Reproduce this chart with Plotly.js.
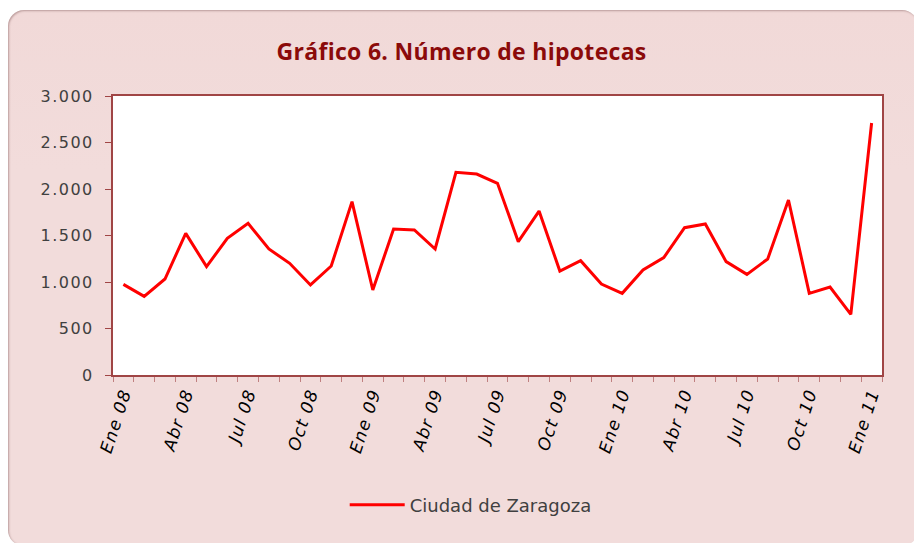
<!DOCTYPE html>
<html>
<head>
<meta charset="utf-8">
<script src="https://cdn.plot.ly/plotly-3.0.1.min.js"></script>
<style>
  html, body { margin: 0; padding: 0; background: #ffffff; width: 914px; height: 543px; overflow: hidden; }
  #frame { position: absolute; left: 8px; top: 10px; width: 910px; height: 536px;
           background: linear-gradient(#f1d9d8, #f2dcdb 30%, #f2dcdb);
           border-radius: 16px; box-shadow: inset 1px 1px 2px rgba(120,80,80,0.45); }
  #chart { position: absolute; left: 0; top: 0; width: 914px; height: 543px; }
  #chart .xtick text { letter-spacing: 1.2px; }
  #chart .ytick text { letter-spacing: 1.5px; }
  #chart .gtitle { letter-spacing: 0.3px; }
</style>
</head>
<body>
<div id="frame"></div>
<div id="chart"></div>
<script>
// Monthly mortgages, Ciudad de Zaragoza, Ene 08 .. Ene 11
const months = ["Ene 08","Feb 08","Mar 08","Abr 08","May 08","Jun 08","Jul 08","Ago 08","Sep 08","Oct 08","Nov 08","Dic 08",
                "Ene 09","Feb 09","Mar 09","Abr 09","May 09","Jun 09","Jul 09","Ago 09","Sep 09","Oct 09","Nov 09","Dic 09",
                "Ene 10","Feb 10","Mar 10","Abr 10","May 10","Jun 10","Jul 10","Ago 10","Sep 10","Oct 10","Nov 10","Dic 10",
                "Ene 11"];
const hipotecas = [975, 846, 1032, 1523, 1165, 1470, 1631, 1355, 1201, 968, 1172, 1864,
                   914, 1570, 1559, 1355, 2179, 2161, 2061, 1434, 1763, 1118, 1229, 978,
                   878, 1129, 1262, 1584, 1624, 1219, 1082, 1247, 1882, 878, 946, 652,
                   2710];
const tickLabels = ["Ene 08","Abr 08","Jul 08","Oct 08","Ene 09","Abr 09","Jul 09","Oct 09","Ene 10","Abr 10","Jul 10","Oct 10","Ene 11"];
const yTicks = [0, 500, 1000, 1500, 2000, 2500, 3000];

const idx = months.map((m, i) => i);
const tickIdx = tickLabels.map(t => months.indexOf(t));

const axisColor = '#a04545';
const trace = {
  x: idx, y: hipotecas, type: 'scatter', mode: 'lines',
  name: 'Ciudad de Zaragoza',
  line: { color: '#ff0000', width: 3 },
  text: months, hovertemplate: '%{text}: %{y}<extra></extra>'
};

const layout = {
  width: 914, height: 543,
  paper_bgcolor: 'rgba(0,0,0,0)', plot_bgcolor: '#ffffff',
  margin: { l: 113, r: 32, t: 96, b: 168, autoexpand: false },
  separators: ',.',
  title: { text: '<b>Gráfico 6. Número de hipotecas</b>', x: 0.505, xref: 'container', xanchor: 'center',
           y: 0.905, yref: 'container', yanchor: 'middle',
           font: { family: 'Open Sans, sans-serif', size: 23, color: '#8b0a0a' } },
  showlegend: true,
  legend: { orientation: 'h', x: 0.515, xref: 'container', xanchor: 'center', y: 0.07, yref: 'container', yanchor: 'middle',
            itemwidth: 55,
            font: { family: 'DejaVu Sans, Verdana, sans-serif', size: 18, color: '#404040' }, bgcolor: 'rgba(0,0,0,0)' },
  xaxis: {
    range: [-0.5, months.length - 0.5], fixedrange: true, automargin: false,
    tickmode: 'array', tickvals: tickIdx, ticktext: tickLabels.map(t => '<i>' + t + '</i>'),
    tickangle: -72, ticks: '', showgrid: false, zeroline: false,
    showline: true, linecolor: axisColor, linewidth: 2, mirror: true,
    tickfont: { family: 'DejaVu Sans, Verdana, sans-serif', size: 17, color: '#000000' },
    minor: { tick0: -0.5, dtick: 1, ticks: 'outside', ticklen: 5, tickcolor: '#c08080', tickwidth: 1, showgrid: false }
  },
  yaxis: {
    range: [0, 3000], fixedrange: true, automargin: false,
    tickmode: 'array', tickvals: yTicks, tickformat: ',d',
    ticks: 'outside', ticklen: 6, tickcolor: axisColor, tickwidth: 1, ticklabelstandoff: 8,
    showgrid: false, zeroline: false,
    showline: true, linecolor: axisColor, linewidth: 2, mirror: true,
    tickfont: { family: 'DejaVu Sans, Verdana, sans-serif', size: 16, color: '#404040' }
  }
};

Plotly.newPlot('chart', [trace], layout, { displayModeBar: false, staticPlot: true });
</script>
</body>
</html>
